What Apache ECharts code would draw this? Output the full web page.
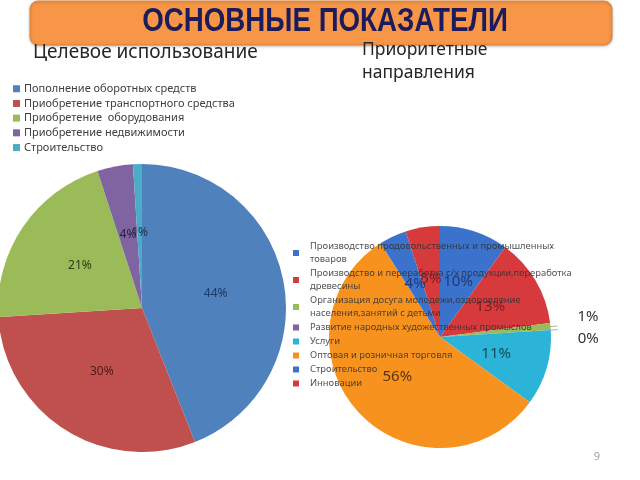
<!DOCTYPE html>
<html>
<head>
<meta charset="utf-8">
<script src="https://cdn.jsdelivr.net/npm/echarts@6/dist/echarts.min.js"></script>
<style>html,body{margin:0;padding:0;background:#fff;}#c{width:640px;height:480px;}</style>
</head>
<body>
<div id="c"></div>
<script>
const leftCategories = [
  'Пополнение оборотных средств',
  'Приобретение транспортного средства',
  'Приобретение  оборудования',
  'Приобретение недвижимости',
  'Строительство'
];
const leftValues = [44, 30, 21, 4, 1];

const rightCategories = [
  'Производство продовольственных и промышленных товаров',
  'Производство и переработка с/х продукции,переработка древесины',
  'Организация досуга молодежи,оздоровление населения,занятий с детьми',
  'Развитие народных художественных промыслов',
  'Услуги',
  'Оптовая и розничная торговля',
  'Строительство ',
  'Инновации'
];
const rightLegendLabels = [
  'Производство продовольственных и промышленных\nтоваров',
  'Производство и переработка с/х продукции,переработка\nдревесины',
  'Организация досуга молодежи,оздоровление\nнаселения,занятий с детьми',
  'Развитие народных художественных промыслов',
  'Услуги',
  'Оптовая и розничная торговля',
  'Строительство',
  'Инновации'
];
const rightValues = [10, 13, 1, 0, 11, 56, 4, 5];

const leftColors = ['#4F81BD', '#C0504D', '#9BBB59', '#8064A2', '#4BACC6'];
const leftLabelColors = ['#1F3864', '#4A1A1A', '#2E3A18', '#1F1F3A', '#1F2F4A'];
const rightColors = ['#3A72CC', '#D63A3C', '#9BBB59', '#8064A2', '#2CB3D8', '#F7921E', '#3A72CC', '#D63A3C'];
const rightLabelColors = ['#1F3A7A', '#7A1E22', '#333', '#333', '#1A4A5A', '#5A3410', '#1F3A7A', '#7A1E22'];

const chart = echarts.init(document.getElementById('c'));
const legendMap = {};
rightCategories.forEach((n, i) => legendMap[n] = rightLegendLabels[i]);

const leftData = leftCategories.map((n, i) => ({
  name: n, value: leftValues[i], itemStyle: { color: leftColors[i] }, label: { color: leftLabelColors[i] }
}));

const rightData = rightCategories.map((n, i) => {
  const item = { name: n, value: rightValues[i], itemStyle: { color: rightColors[i] }, label: { color: rightLabelColors[i] } };
  if (i === 2 || i === 3) {
    item.label = {
      position: 'outside', color: '#333', distanceToLabelLine: 20, lineHeight: 18,
      formatter: p => (i === 2 ? p.value + '%\n' : '\n' + p.value + '%')
    };
    item.labelLine = { show: true, length: 5, length2: 2, lineStyle: { color: '#999', width: 0.8 } };
  }
  return item;
});

chart.setOption({
  animation: false,
  graphic: [
    { type: 'rect', shape: { x: 30, y: 1, width: 582, height: 44, r: 8 },
      style: { fill: '#F79646', stroke: '#E0823A', lineWidth: 1, shadowBlur: 3, shadowColor: 'rgba(0,0,0,0.25)', shadowOffsetY: 1 }, z: 0 },
    { type: 'text', x: 325, y: 22, scaleX: 0.815, z: 1,
      style: { text: 'ОСНОВНЫЕ ПОКАЗАТЕЛИ', fill: '#1C1C5C', font: 'bold 34px "Liberation Sans", Arial', align: 'center', verticalAlign: 'middle' } },
    { type: 'text', x: 33, y: 53, style: { text: 'Целевое использование', fill: '#262626', font: '19px "Noto Sans", "Open Sans", sans-serif', verticalAlign: 'middle' } },
    { type: 'text', x: 362, y: 50, style: { text: 'Приоритетные', fill: '#262626', font: '17.5px "Noto Sans", "Open Sans", sans-serif', verticalAlign: 'middle' } },
    { type: 'text', x: 362, y: 73, style: { text: 'направления', fill: '#262626', font: '17.5px "Noto Sans", "Open Sans", sans-serif', verticalAlign: 'middle' } },
    { type: 'text', x: 597, y: 457, style: { text: '9', fill: '#A0A0A0', font: '11px "Noto Sans", sans-serif', align: 'center', verticalAlign: 'middle' } }
  ],
  legend: [
    { data: leftCategories, orient: 'vertical', left: 8, top: 77, itemWidth: 7, itemHeight: 7, itemGap: 1.2,
      icon: 'rect', selectedMode: false,
      textStyle: { fontFamily: '"Noto Sans", "Open Sans", sans-serif', fontSize: 11, color: '#404040', lineHeight: 13.5, padding: [0,0,0,-1] } },
    { data: rightCategories, orient: 'vertical', left: 288, top: 235, itemWidth: 6, itemHeight: 6, itemGap: 1,
      icon: 'rect', selectedMode: false,
      formatter: n => legendMap[n],
      textStyle: { fontFamily: '"Noto Sans", "Open Sans", sans-serif', fontSize: 9.4, color: 'rgba(50,50,50,0.85)', lineHeight: 13, padding: [0,0,0,6] } }
  ],
  series: [
    { type: 'pie', center: [142, 308], radius: 144, startAngle: 90, clockwise: true,
      avoidLabelOverlap: false, labelLayout: { hideOverlap: false },
      label: { position: 'inside', formatter: '{c}%', fontSize: 12, fontFamily: '"Noto Sans", sans-serif' },
      labelLine: { show: false },
      data: leftData
    },
    { type: 'pie', center: [440, 337], radius: 111, startAngle: 90, clockwise: true,
      avoidLabelOverlap: false, labelLayout: { hideOverlap: false },
      label: { position: 'inside', formatter: '{c}%', fontSize: 15, fontFamily: '"Noto Sans", sans-serif' },
      labelLine: { show: false },
      data: rightData
    }
  ]
});
</script>
</body>
</html>
